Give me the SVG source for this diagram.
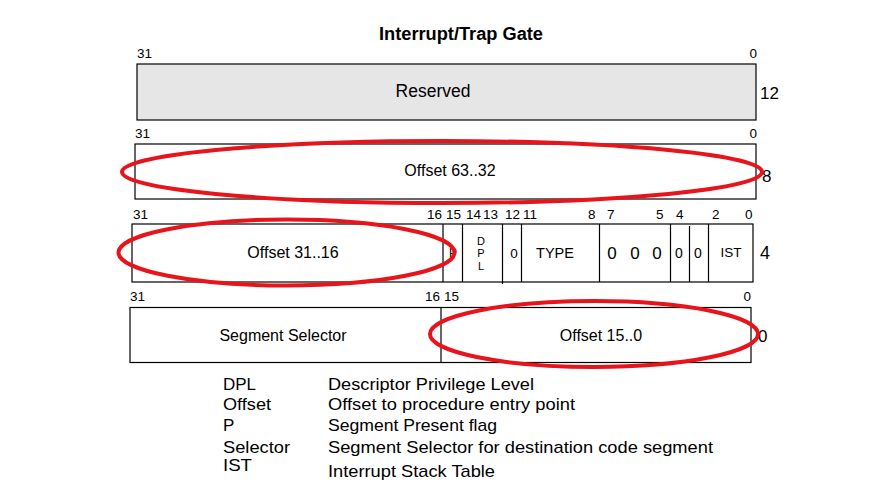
<svg xmlns="http://www.w3.org/2000/svg" width="875" height="502" viewBox="0 0 875 502">
<style>
text{font-family:"Liberation Sans",Arial,sans-serif;fill:#000}
.bit{font-size:13.5px}
.fld{fill:#fff;stroke:#000;stroke-width:1.2}
.res{fill:#e6e6e6;stroke:#000;stroke-width:1.2}
.div{stroke:#000;stroke-width:1.2}
.c{text-anchor:middle}
.e{text-anchor:end}
.hl{fill:none;stroke:#e8141c;stroke-width:4}
.leg{font-size:17px}
</style>
<rect width="875" height="502" fill="#fff"/>
<text id="title" x="461" y="40" class="c" font-size="17.5" font-weight="bold" textLength="164" lengthAdjust="spacingAndGlyphs">Interrupt/Trap Gate</text>

<g id="row12">
<text class="bit" x="137" y="58">31</text>
<text class="bit e" x="757" y="58">0</text>
<rect class="res" x="137" y="64" width="619" height="56"/>
<text x="433" y="97" class="c" font-size="17.5">Reserved</text>
<text x="760" y="99" font-size="17">12</text>
</g>

<g id="row8">
<text class="bit" x="135" y="138">31</text>
<text class="bit e" x="757" y="138">0</text>
<rect class="fld" x="135" y="144" width="621" height="55"/>
<text x="450" y="176" class="c" font-size="16">Offset 63..32</text>
<text x="762" y="182" font-size="17">8</text>
</g>

<g id="row4">
<text class="bit" x="133" y="219">31</text>
<text class="bit" x="427" y="219">16</text>
<text class="bit" x="446" y="219">15</text>
<text class="bit" x="466" y="219">14</text>
<text class="bit" x="483" y="219">13</text>
<text class="bit" x="505" y="219">12</text>
<text class="bit" x="523" y="219">11</text>
<text class="bit" x="588" y="219">8</text>
<text class="bit" x="607" y="219">7</text>
<text class="bit" x="656" y="219">5</text>
<text class="bit" x="676" y="219">4</text>
<text class="bit" x="712" y="219">2</text>
<text class="bit" x="745" y="219">0</text>
<rect class="fld" x="132" y="224" width="621" height="58"/>
<g id="f-offset3116"><text x="293" y="258" class="c" font-size="16">Offset 31..16</text></g>
<line class="div" x1="443" y1="224" x2="443" y2="282"/>
<g id="f-p"><text x="453" y="257" class="c" font-size="12">P</text></g>
<line class="div" x1="462.5" y1="224" x2="462.5" y2="282"/>
<g id="f-dpl">
<text class="c" font-size="11"><tspan x="481" y="244.5">D</tspan><tspan x="481" y="257">P</tspan><tspan x="481" y="269.5">L</tspan></text>
</g>
<line class="div" x1="502.5" y1="224" x2="502.5" y2="284"/>
<g id="f-b12"><text x="514" y="258" class="c" font-size="13.5">0</text></g>
<line class="div" x1="521.5" y1="224" x2="521.5" y2="282"/>
<g id="f-type"><text x="555" y="258" class="c" font-size="14.5">TYPE</text></g>
<line class="div" x1="599.5" y1="224" x2="599.5" y2="282"/>
<g id="f-b75">
<text x="612" y="259" class="c" font-size="17">0</text>
<text x="635" y="259" class="c" font-size="17">0</text>
<text x="657" y="259" class="c" font-size="17">0</text>
</g>
<line class="div" x1="670.5" y1="224" x2="670.5" y2="282"/>
<g id="f-b4"><text x="679" y="258" class="c" font-size="14">0</text></g>
<line class="div" x1="689.5" y1="226" x2="689.5" y2="282"/>
<g id="f-b3"><text x="698" y="258" class="c" font-size="14">0</text></g>
<line class="div" x1="708.5" y1="224" x2="708.5" y2="282"/>
<g id="f-ist"><text x="731" y="257" class="c" font-size="13.5">IST</text></g>
<text x="760" y="259" font-size="18">4</text>
</g>

<g id="row0">
<text class="bit" x="130" y="301">31</text>
<text class="bit" x="425" y="301">16</text>
<text class="bit" x="444" y="301">15</text>
<text class="bit e" x="751" y="301">0</text>
<rect class="fld" x="130" y="307.5" width="621" height="55"/>
<line class="div" x1="441" y1="307.5" x2="441" y2="362.5"/>
<g id="f-selector"><text x="283" y="341" class="c" font-size="16">Segment Selector</text></g>
<g id="f-offset150"><text x="601" y="341" class="c" font-size="16">Offset 15..0</text></g>
<text x="758" y="342" font-size="17">0</text>
</g>

<g id="highlights">
<ellipse class="hl" cx="442" cy="172" rx="320" ry="31"/>
<ellipse class="hl" cx="286.5" cy="252.5" rx="168" ry="33"/>
<ellipse class="hl" cx="594" cy="334" rx="164" ry="33"/>
</g>

<g id="legend">
<text class="leg" x="223" y="390" textLength="33" lengthAdjust="spacingAndGlyphs">DPL</text>
<text class="leg" x="223" y="410" textLength="48" lengthAdjust="spacingAndGlyphs">Offset</text>
<text class="leg" x="223" y="431">P</text>
<text class="leg" x="223" y="453" textLength="67" lengthAdjust="spacingAndGlyphs">Selector</text>
<text class="leg" x="223" y="471" textLength="29" lengthAdjust="spacingAndGlyphs">IST</text>
<text class="leg" x="328" y="390" textLength="206" lengthAdjust="spacingAndGlyphs">Descriptor Privilege Level</text>
<text class="leg" x="328" y="410" textLength="247" lengthAdjust="spacingAndGlyphs">Offset to procedure entry point</text>
<text class="leg" x="328" y="431" textLength="169" lengthAdjust="spacingAndGlyphs">Segment Present flag</text>
<text class="leg" x="328" y="453" textLength="385" lengthAdjust="spacingAndGlyphs">Segment Selector for destination code segment</text>
<text class="leg" x="328" y="477" textLength="167" lengthAdjust="spacingAndGlyphs">Interrupt Stack Table</text>
</g>
</svg>
